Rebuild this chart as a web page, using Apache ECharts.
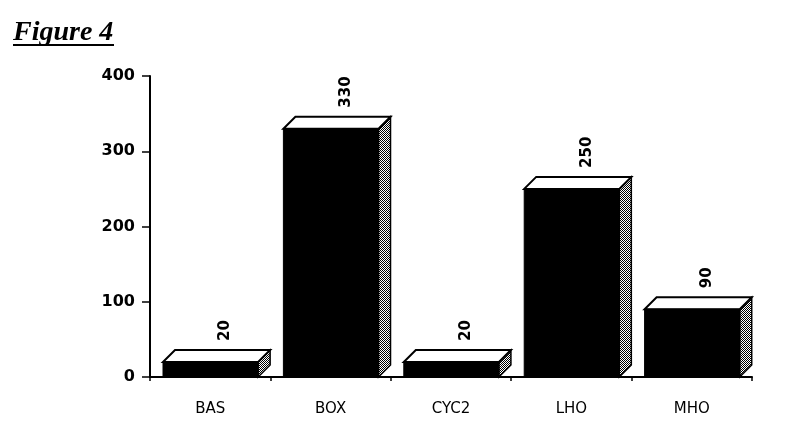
<!DOCTYPE html>
<html>
<head>
<meta charset="utf-8">
<script src="https://cdn.jsdelivr.net/npm/echarts@6/dist/echarts.min.js"></script>
<style>html,body{margin:0;padding:0;background:#fff}#c{width:800px;height:440px}</style>
</head>
<body>
<div id="c"></div>
<script>
const categories = ['BAS', 'BOX', 'CYC2', 'LHO', 'MHO'];
const values = [20, 330, 20, 250, 90];
const yTicks = [0, 100, 200, 300, 400];

const pat = document.createElement('canvas');
pat.width = 2; pat.height = 2;
const pctx = pat.getContext('2d');
pctx.fillStyle = '#fff'; pctx.fillRect(0, 0, 2, 2);
pctx.fillStyle = '#000'; pctx.fillRect(0, 0, 1, 1); pctx.fillRect(1, 1, 1, 1);

const chart = echarts.init(document.getElementById('c'));
const DX = 12, DY = -12;
chart.setOption({
  backgroundColor: '#fff',
  animation: false,
  grid: { left: 150, right: 48, top: 76, bottom: 63 },
  graphic: [
    { type: 'text', left: 13, top: 19, style: { text: 'Figure 4', font: 'italic bold 28px "Liberation Serif"', fill: '#000' } },
    { type: 'line', shape: { x1: 13, y1: 45, x2: 114, y2: 45 }, style: { stroke: '#000', lineWidth: 2 } }
  ],
  xAxis: {
    type: 'category', data: categories,
    axisLine: { lineStyle: { color: '#000', width: 2 } },
    axisTick: { show: true, length: 4, lineStyle: { color: '#000', width: 1.5 } },
    axisLabel: { color: '#000', fontFamily: 'DejaVu Sans', fontSize: 15, margin: 25 }
  },
  yAxis: {
    type: 'value', min: yTicks[0], max: yTicks[yTicks.length - 1], interval: 100,
    axisLine: { show: true, lineStyle: { color: '#000', width: 2 } },
    axisTick: { show: true, length: 8, lineStyle: { color: '#000', width: 1.5 } },
    axisLabel: { color: '#000', fontFamily: 'DejaVu Sans', fontWeight: 'bold', fontSize: 16, margin: 15 },
    splitLine: { show: false }
  },
  series: [{
    type: 'custom',
    data: values.map((v, i) => [i, v]),
    renderItem: function (params, api) {
      const top = api.coord([api.value(0), api.value(1)]);
      const base = api.coord([api.value(0), 0]);
      const band = api.size([1, 0])[0];
      const left = top[0] - band / 2 + band * 0.108;
      const fw = band * 0.79;
      const y1 = top[1], y0 = base[1];
      return {
        type: 'group',
        children: [
          { type: 'polygon', shape: { points: [[left + fw, y1], [left + fw + DX, y1 + DY], [left + fw + DX, y0 + DY], [left + fw, y0]] },
            style: { fill: { image: pat, repeat: 'repeat' }, stroke: '#000', lineWidth: 1.5 } },
          { type: 'polygon', shape: { points: [[left, y1], [left + DX, y1 + DY], [left + fw + DX, y1 + DY], [left + fw, y1]] },
            style: { fill: '#fff', stroke: '#000', lineWidth: 2 } },
          { type: 'rect', shape: { x: left, y: y1, width: fw, height: y0 - y1 },
            style: { fill: '#000', stroke: '#000', lineWidth: 1 } },
          { type: 'text', x: left + fw / 2 + DX + 3, y: y1 + DY - 9, rotation: Math.PI / 2,
            style: { text: String(api.value(1)), font: 'bold 15px "DejaVu Sans"', fill: '#000', textAlign: 'left', textVerticalAlign: 'middle' } }
        ]
      };
    }
  }]
});
</script>
</body>
</html>
